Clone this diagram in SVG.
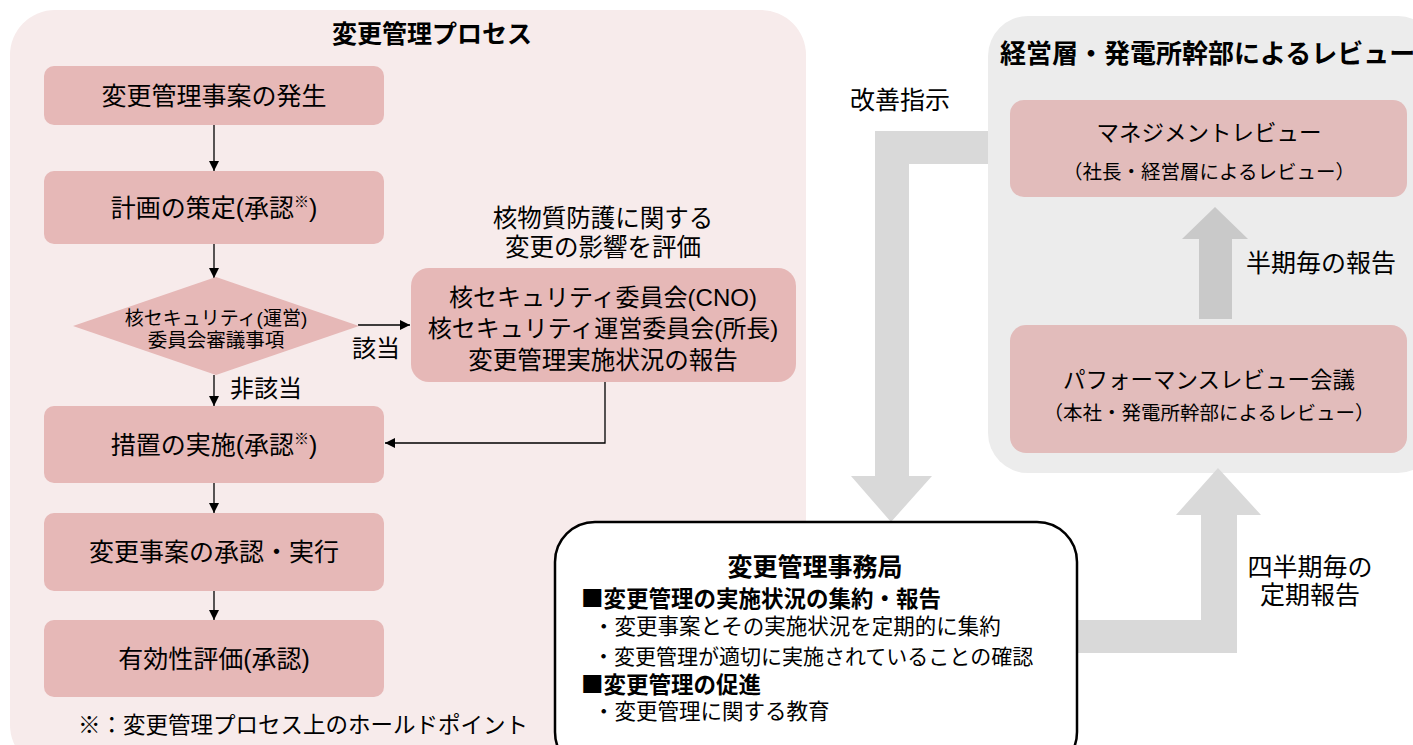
<svg xmlns="http://www.w3.org/2000/svg" width="1413" height="745" viewBox="0 0 1413 745">
<defs>
<style>
text{font-family:"Liberation Sans","Noto Sans CJK JP",sans-serif;fill:#000;dominant-baseline:central}
.j{font-family:"Noto Sans CJK JP","Liberation Sans",sans-serif}
.c{text-anchor:middle}
.b{font-weight:bold}
.box{fill:#e6b8b7}
.rbox{fill:#e2bcbb}
.ln{stroke:#000;stroke-width:1.3;fill:none}
.ga{fill:#d9d9d9}
</style>
<marker id="ah" viewBox="0 0 10 10" refX="10" refY="5" markerWidth="10" markerHeight="10" markerUnits="userSpaceOnUse" orient="auto">
<path d="M0,0 L10,5 L0,10 z" fill="#000"/>
</marker>
</defs>

<g id="process-panel">
<rect x="10" y="10" width="796" height="760" rx="45" fill="#f7ebeb"/>
<text class="c b" x="432" y="34" font-size="25">変更管理プロセス</text>
</g>

<g id="review-panel">
<rect x="988" y="16" width="450" height="457" rx="40" fill="#ececec"/>
<text class="b" x="1000" y="54" font-size="26">経営層・発電所幹部によるレビュー</text>
</g>

<g id="connectors">
<line class="ln" x1="214" y1="125" x2="214" y2="171" marker-end="url(#ah)"/>
<line class="ln" x1="214" y1="244" x2="214" y2="278" marker-end="url(#ah)"/>
<line class="ln" x1="214" y1="375" x2="214" y2="406" marker-end="url(#ah)"/>
<line class="ln" x1="214" y1="483" x2="214" y2="513" marker-end="url(#ah)"/>
<line class="ln" x1="214" y1="591" x2="214" y2="620" marker-end="url(#ah)"/>
<line class="ln" x1="358" y1="325" x2="410" y2="325" marker-end="url(#ah)"/>
<polyline class="ln" points="605,382 605,443 385,443" marker-end="url(#ah)"/>
<polygon class="ga" points="988,131 875,131 875,476 851,476 891,522 932,476 909,476 909,164 988,164"/>
<polygon class="ga" points="1078,620 1201,620 1201,515 1176,515 1218,468 1261,515 1237,515 1237,653 1078,653"/>
<polygon fill="#c9c9c9" points="1199,319 1199,239 1182,239 1215,207 1248,239 1232,239 1232,319"/>
<text x="850" y="100" font-size="25">改善指示</text>
<text x="1246" y="263" font-size="25">半期毎の報告</text>
<text class="c" x="1310" y="567" font-size="25">四半期毎の</text>
<text class="c" x="1310" y="595" font-size="25">定期報告</text>
<text x="230" y="388" font-size="24">非該当</text>
<text x="352" y="348" font-size="24">該当</text>
</g>

<g id="n1">
<rect class="box" x="44" y="66" width="340" height="59" rx="10"/>
<text class="c" x="214" y="96" font-size="25">変更管理事案の発生</text>
</g>
<g id="n2">
<rect class="box" x="44" y="171" width="340" height="73" rx="10"/>
<text class="c" x="214" y="208" font-size="25">計画の策定(承認<tspan font-size="15" dy="-7">※</tspan><tspan dy="7">)</tspan></text>
</g>
<g id="n3">
<polygon class="box" points="216,277 359,326 216,375 73,326"/>
<text class="c" x="216" y="318" font-size="19">核セキュリティ(運営)</text>
<text class="c" x="216" y="340" font-size="19.5">委員会審議事項</text>
</g>
<g id="n4">
<text class="c" x="603" y="218" font-size="24.5">核物質防護に関する</text>
<text class="c" x="603" y="247" font-size="24.5">変更の影響を評価</text>
<rect class="box" x="411" y="268" width="385" height="114" rx="18"/>
<text class="c" x="603" y="297" font-size="24">核セキュリティ委員会(CNO)</text>
<text class="c" x="603" y="328" font-size="24">核セキュリティ運営委員会(所長)</text>
<text class="c" x="603" y="360" font-size="24.5">変更管理実施状況の報告</text>
</g>
<g id="n5">
<rect class="box" x="44" y="406" width="340" height="77" rx="10"/>
<text class="c" x="214" y="445" font-size="25">措置の実施(承認<tspan font-size="15" dy="-7">※</tspan><tspan dy="7">)</tspan></text>
</g>
<g id="n6">
<rect class="box" x="44" y="513" width="340" height="78" rx="10"/>
<text class="c" x="214" y="552" font-size="25">変更事案の承認・実行</text>
</g>
<g id="n7">
<rect class="box" x="44" y="620" width="340" height="77" rx="10"/>
<text class="c" x="214" y="659" font-size="25">有効性評価(承認)</text>
</g>
<g id="footnote">
<text x="78" y="725" font-size="22.5">※：変更管理プロセス上のホールドポイント</text>
</g>

<g id="mr">
<rect class="rbox" x="1010" y="100" width="397" height="97" rx="14"/>
<text class="c" x="1209" y="133" font-size="22.5">マネジメントレビュー</text>
<text class="c" x="1209" y="172" font-size="19.5">（社長・経営層によるレビュー）</text>
</g>
<g id="pr">
<rect class="rbox" x="1010" y="325" width="397" height="128" rx="16"/>
<text class="c" x="1209" y="380" font-size="22.5">パフォーマンスレビュー会議</text>
<text class="c" x="1209" y="413" font-size="19.5">（本社・発電所幹部によるレビュー）</text>
</g>

<g id="office">
<rect x="555" y="522" width="522" height="250" rx="40" fill="#fff" stroke="#000" stroke-width="2.5"/>
<text class="c b" x="815" y="567" font-size="25">変更管理事務局</text>
<text class="b j" x="581" y="597" font-size="22.5">■変更管理の実施状況の集約・報告</text>
<text x="593" y="627" font-size="21.5">・変更事案とその実施状況を定期的に集約</text>
<text x="593" y="656" font-size="21">・変更管理が適切に実施されていることの確認</text>
<text class="b j" x="581" y="683" font-size="22.5">■変更管理の促進</text>
<text x="593" y="712" font-size="21.5">・変更管理に関する教育</text>
</g>
</svg>
